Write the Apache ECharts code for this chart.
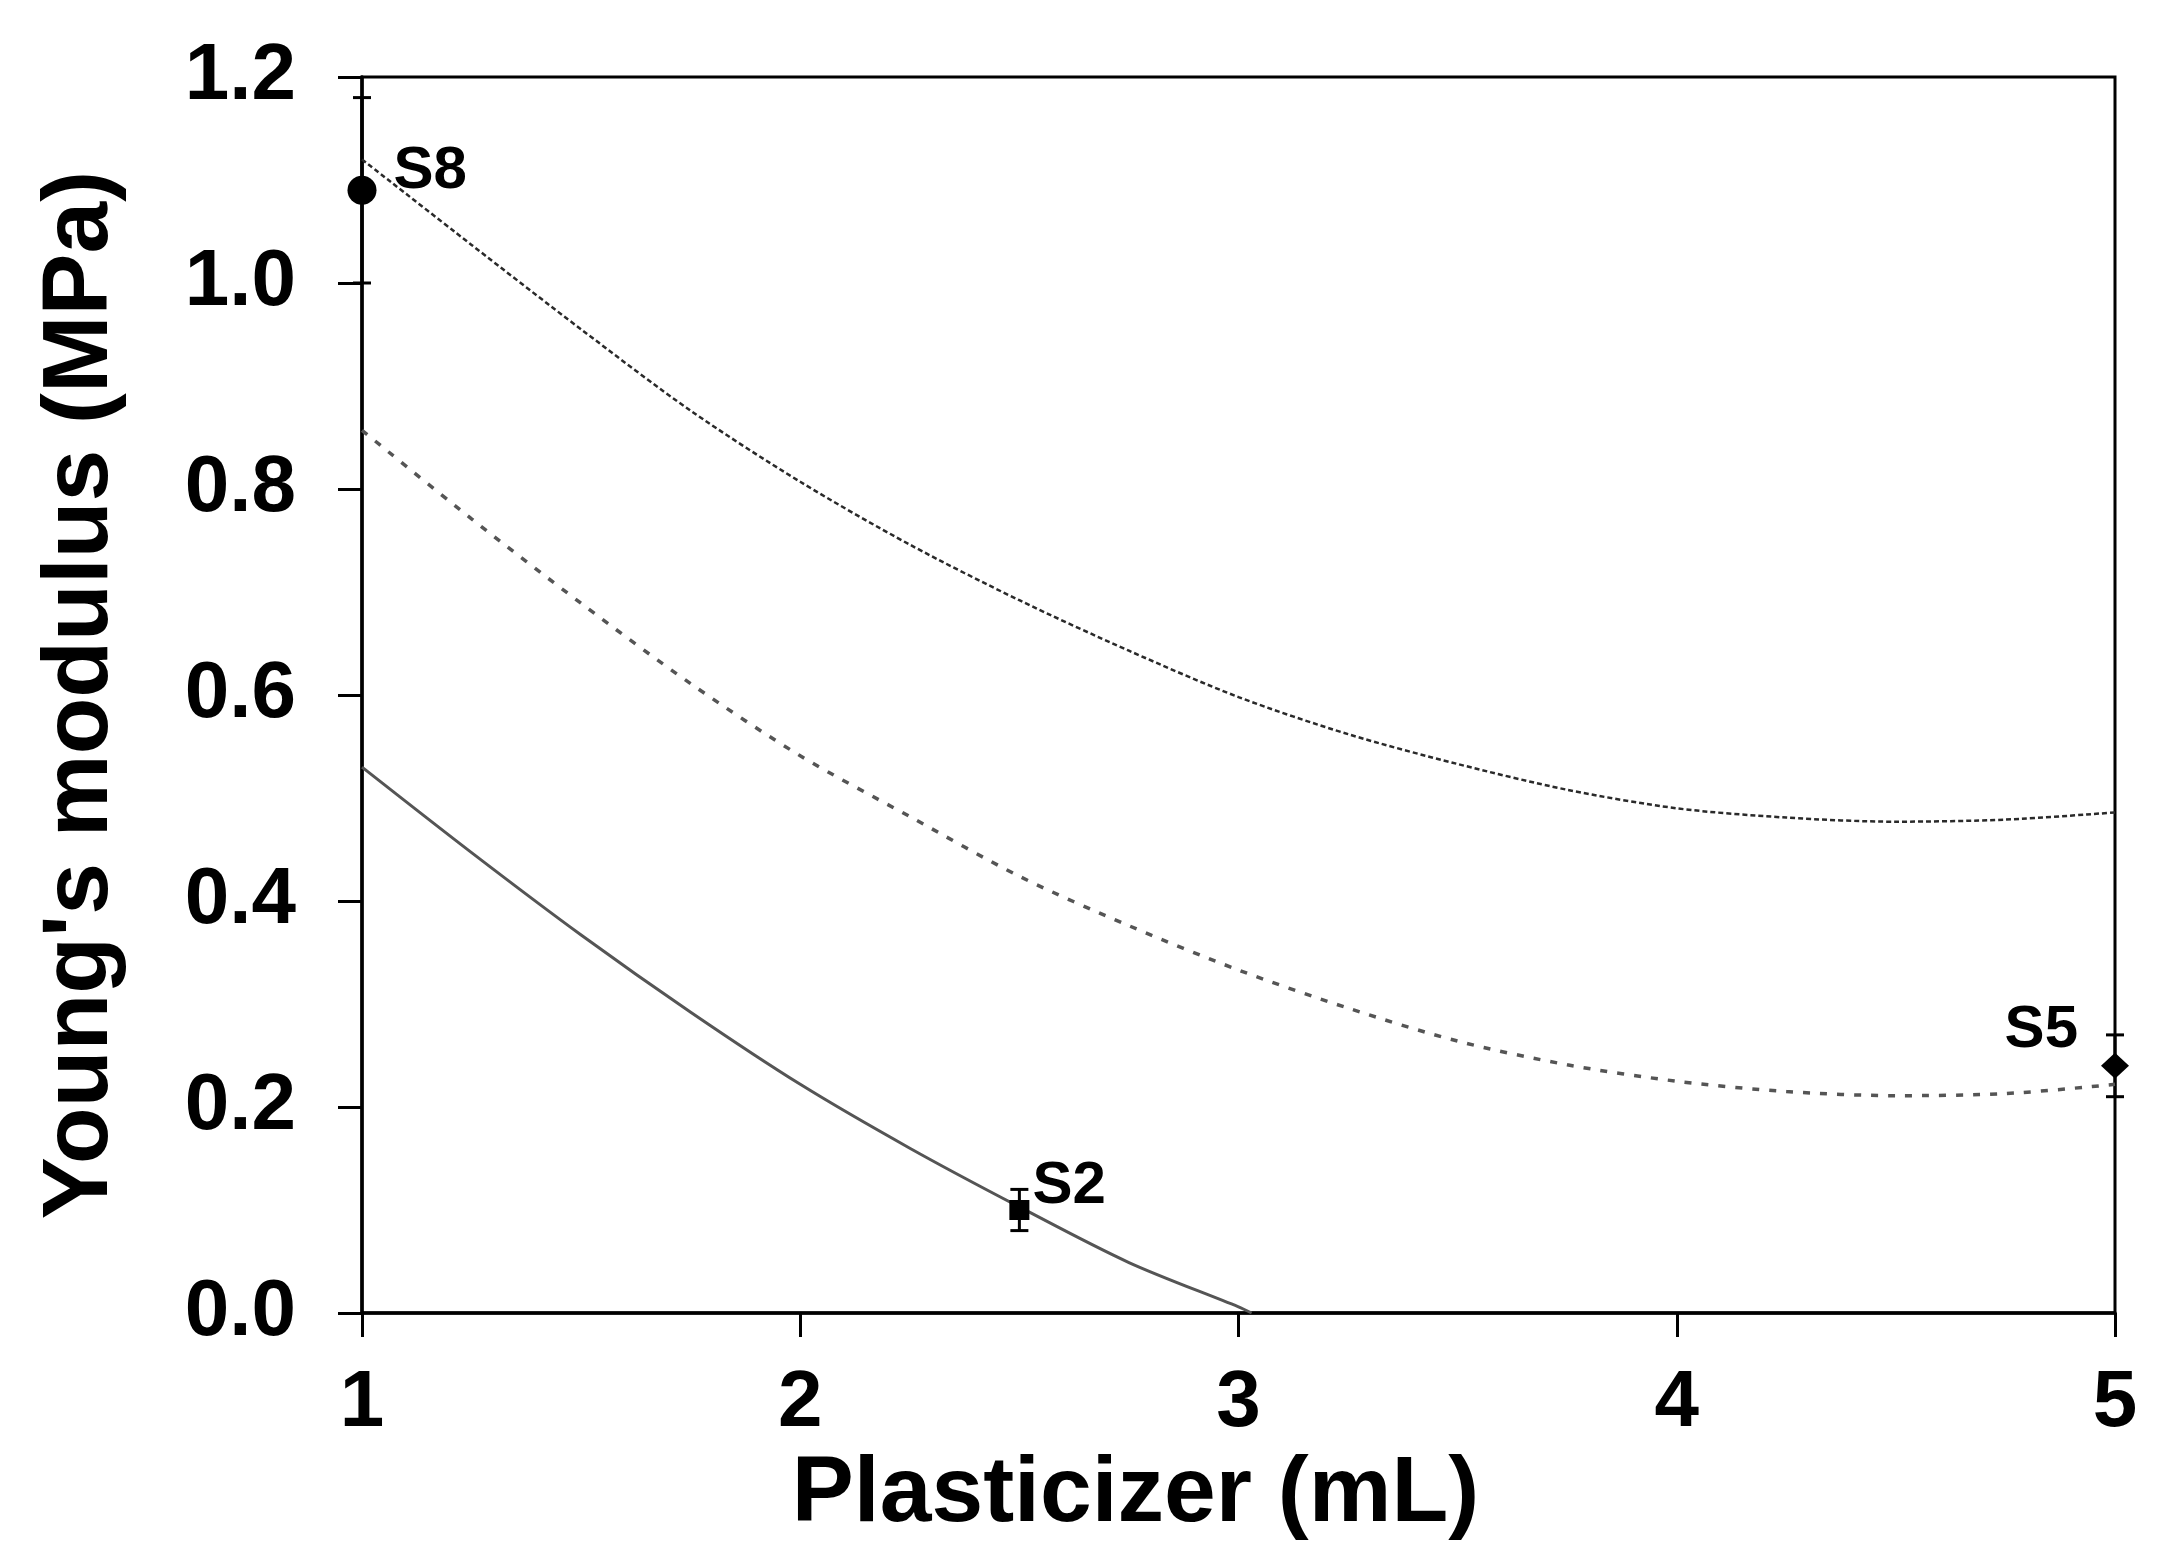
<!DOCTYPE html>
<html>
<head>
<meta charset="utf-8">
<title>Young's modulus vs plasticizer</title>
<script src="https://cdn.jsdelivr.net/npm/echarts@6.0.0/dist/echarts.min.js"></script>
<style>
    html, body { margin: 0; padding: 0; background: #fff; }
    #main { width: 2171px; height: 1557px; }
</style>
</head>
<body>
<div id="main"></div>
<script>
// fitted curves, every 0.25 mL
var xFit = [1, 1.25, 1.5, 1.75, 2, 2.25, 2.5, 2.75, 3, 3.25, 3.5, 3.75, 4, 4.25, 4.5, 4.75, 5];
var fitTop = [1.120, 1.037, 0.955, 0.876, 0.807, 0.746, 0.692, 0.643, 0.598, 0.562, 0.533, 0.508, 0.490, 0.481, 0.477, 0.479, 0.486];
var fitMid = [0.857, 0.771, 0.689, 0.611, 0.541, 0.482, 0.424, 0.376, 0.333, 0.296, 0.264, 0.241, 0.225, 0.215, 0.211, 0.213, 0.222];
var xSolid = [1, 1.25, 1.5, 1.75, 2, 2.25, 2.5, 2.75, 3, 3.03];
var fitSolid = [0.530, 0.447, 0.367, 0.292, 0.222, 0.160, 0.103, 0.049, 0.006, 0];

// measured samples (mean and error)
var sampleName = ['S8', 'S2', 'S5'];
var sampleX = [1, 2.5, 5];
var sampleY = [1.09, 0.10, 0.24];
var sampleErr = [0.09, 0.02, 0.03];

var FONT = "'Liberation Sans', Arial, sans-serif";

// marker look per sample
var markerStyle = {
    S8: { symbol: 'circle', size: 29, pos: 'right', offset: [12, -19] },
    S2: { symbol: 'rect', size: 20, pos: 'right', offset: [-2, -24] },
    S5: { symbol: 'diamond', size: [28, 26], pos: 'left', offset: [-18, -35] }
};

function pairs(xs, ys) {
    var out = [];
    for (var i = 0; i < xs.length; i++) {
        out.push([xs[i], ys[i]]);
    }
    return out;
}

var points = sampleName.map(function (n, i) {
    var st = markerStyle[n];
    return {
        name: n,
        value: [sampleX[i], sampleY[i]],
        symbol: st.symbol,
        symbolSize: st.size,
        label: { position: st.pos, offset: st.offset }
    };
});

var errBars = sampleName.map(function (n, i) {
    return [sampleX[i], sampleY[i] - sampleErr[i], sampleY[i] + sampleErr[i]];
});

var myChart = echarts.init(document.getElementById('main'));
var option = {
    animation: false,
    backgroundColor: '#fff',
    grid: {
        left: 362,
        right: 56,
        top: 77,
        bottom: 244,
        show: true,
        borderColor: '#000',
        borderWidth: 3
    },
    xAxis: {
        type: 'value',
        min: 1,
        max: 5,
        interval: 1,
        axisLine: { lineStyle: { color: '#000', width: 3.5 } },
        axisTick: { length: 24, lineStyle: { color: '#000', width: 3 } },
        splitLine: { show: false },
        axisLabel: { margin: 51, fontSize: 80, fontWeight: 'bold', fontFamily: FONT, color: '#000' },
        name: 'Plasticizer (mL)',
        nameLocation: 'middle',
        nameGap: 130,
        nameTextStyle: { fontSize: 93, fontWeight: 'bold', fontFamily: FONT, color: '#000', padding: [0, 206, 0, 0] }
    },
    yAxis: {
        type: 'value',
        min: 0,
        max: 1.2,
        interval: 0.2,
        axisLine: { lineStyle: { color: '#000', width: 3.5 } },
        axisTick: { length: 24, lineStyle: { color: '#000', width: 3 } },
        splitLine: { show: false },
        axisLabel: {
            margin: 66, fontSize: 80, fontWeight: 'bold', fontFamily: FONT, color: '#000',
            formatter: function (v) { return v.toFixed(1); }
        },
        name: "Young's modulus (MPa)",
        nameLocation: 'middle',
        nameGap: 234,
        nameTextStyle: { fontSize: 93, fontWeight: 'bold', fontFamily: FONT, color: '#000' }
    },
    series: [
        {
            name: 'fit upper',
            type: 'line',
            data: pairs(xFit, fitTop),
            smooth: 0.3,
            showSymbol: false,
            lineStyle: { color: '#2a2a2a', width: 2.5, type: [5, 3] }
        },
        {
            name: 'fit middle',
            type: 'line',
            data: pairs(xFit, fitMid),
            smooth: 0.3,
            showSymbol: false,
            lineStyle: { color: '#555', width: 3.5, type: [7, 10] }
        },
        {
            name: 'fit lower',
            type: 'line',
            data: pairs(xSolid, fitSolid),
            smooth: 0.3,
            showSymbol: false,
            lineStyle: { color: '#555', width: 3 }
        },
        {
            name: 'error',
            type: 'custom',
            clip: false,
            data: errBars,
            renderItem: function (params, api) {
                var x = api.value(0);
                var lo = api.coord([x, api.value(1)]);
                var hi = api.coord([x, api.value(2)]);
                var hw = 9;
                var st = { stroke: '#000', lineWidth: 3 };
                return {
                    type: 'group',
                    children: [
                        { type: 'line', shape: { x1: lo[0], y1: lo[1], x2: hi[0], y2: hi[1] }, style: st },
                        { type: 'line', shape: { x1: hi[0] - hw, y1: hi[1], x2: hi[0] + hw, y2: hi[1] }, style: st },
                        { type: 'line', shape: { x1: lo[0] - hw, y1: lo[1], x2: lo[0] + hw, y2: lo[1] }, style: st }
                    ]
                };
            },
            z: 3
        },
        {
            name: 'samples',
            type: 'scatter',
            clip: false,
            data: points,
            itemStyle: { color: '#000', opacity: 1 },
            label: {
                show: true,
                formatter: '{b}',
                fontSize: 60,
                fontWeight: 'bold',
                fontFamily: FONT,
                color: '#000'
            },
            z: 4
        }
    ]
};
myChart.setOption(option);
</script>
</body>
</html>
